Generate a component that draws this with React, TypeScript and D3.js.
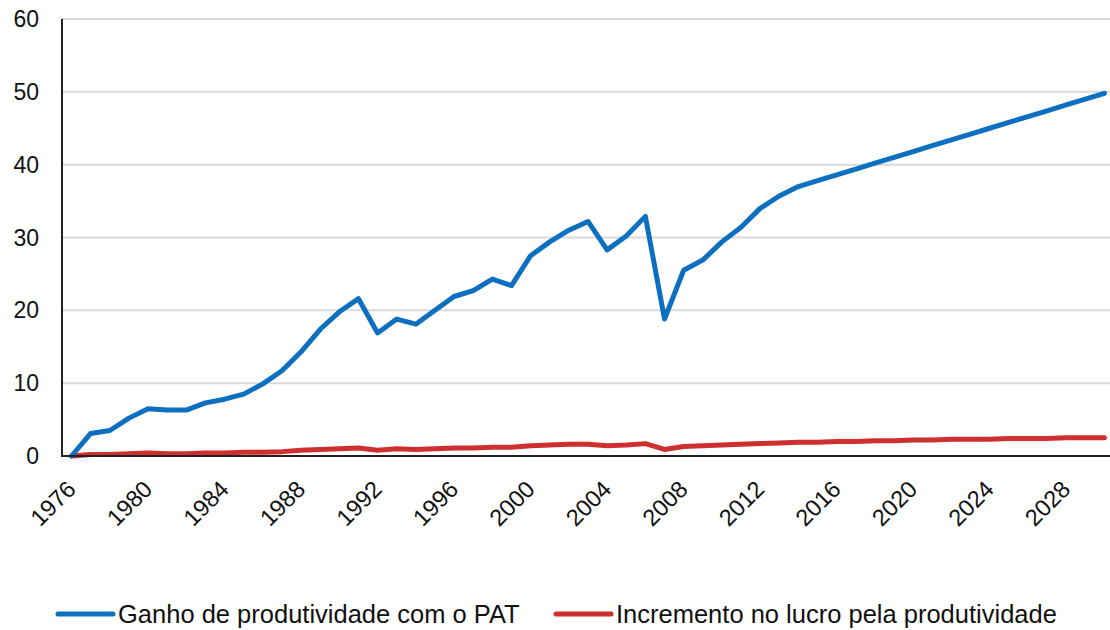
import React, { useRef, useEffect } from 'react';
import * as d3 from 'd3';

const years = d3.range(1976, 2031);

const ganhoPAT = [
  0, 3.1, 3.5, 5.2, 6.5, 6.3, 6.3, 7.3, 7.8, 8.5,
  9.9, 11.7, 14.3, 17.4, 19.8, 21.6, 16.9, 18.8, 18.1, 20.0,
  21.9, 22.7, 24.3, 23.4, 27.5, 29.4, 31.0, 32.2, 28.3, 30.2,
  32.9, 18.8, 25.5, 26.9, 29.4, 31.4, 34.0, 35.7, 37.0, 37.8,
  38.6, 39.4, 40.2, 41.0, 41.8, 42.6, 43.4, 44.2, 45.0, 45.8,
  46.6, 47.4, 48.2, 49.0, 49.8,
];

const incrementoLucro = [
  0, 0.2, 0.2, 0.3, 0.4, 0.3, 0.3, 0.4, 0.4, 0.5,
  0.5, 0.6, 0.8, 0.9, 1.0, 1.1, 0.8, 1.0, 0.9, 1.0,
  1.1, 1.1, 1.2, 1.2, 1.4, 1.5, 1.6, 1.6, 1.4, 1.5,
  1.7, 0.9, 1.3, 1.4, 1.5, 1.6, 1.7, 1.8, 1.9, 1.9,
  2.0, 2.0, 2.1, 2.1, 2.2, 2.2, 2.3, 2.3, 2.3, 2.4,
  2.4, 2.4, 2.5, 2.5, 2.5,
];

const yTicks = [0, 10, 20, 30, 40, 50, 60];
const xTickYears = d3.range(1976, 2030, 4);

const seriesNames = ['Ganho de produtividade com o PAT', 'Incremento no lucro pela produtividade'];
const seriesColors = ['#0d6fbf', '#cf2f2f'];

const PATChart = () => {
  const chartRef = useRef(null);

  useEffect(() => {
    const container = d3.select(chartRef.current);
    container.select('svg').remove();

    const width = 1110;
    const height = 630;
    const left = 62;
    const top = 19;
    const bottom = 456;
    const font = 'Liberation Sans, Arial, sans-serif';

    const svg = container
      .append('svg')
      .attr('width', width)
      .attr('height', height)
      .style('display', 'block');

    const xScale = d3.scalePoint<number>()
      .domain(years)
      .range([left, 1114])
      .padding(0.5);

    const yScale = d3.scaleLinear()
      .domain([0, 60])
      .range([bottom, top]);

    // gridlines
    svg.append('g')
      .selectAll('line')
      .data(yTicks.filter((d) => d > 0))
      .enter()
      .append('line')
      .attr('x1', left)
      .attr('x2', width)
      .attr('y1', (d) => yScale(d))
      .attr('y2', (d) => yScale(d))
      .attr('stroke', '#d9d9dc')
      .attr('stroke-width', 2);

    // y labels
    svg.append('g')
      .selectAll('text')
      .data(yTicks)
      .enter()
      .append('text')
      .attr('x', 39)
      .attr('y', (d) => yScale(d))
      .attr('dy', '0.35em')
      .attr('text-anchor', 'end')
      .style('font-family', font)
      .style('font-size', '23px')
      .attr('fill', '#111')
      .text((d) => d);

    // x labels, rotated
    svg.append('g')
      .selectAll('text')
      .data(xTickYears)
      .enter()
      .append('text')
      .attr('transform', (d) => `translate(${(xScale(d) as number) - 6}, ${bottom + 23}) rotate(-45)`)
      .attr('text-anchor', 'end')
      .attr('dy', '0.7em')
      .style('font-family', font)
      .style('font-size', '23.5px')
      .attr('fill', '#111')
      .text((d) => d);

    // series
    const line = d3.line<number>()
      .x((_, i) => xScale(years[i]) as number)
      .y((d) => yScale(d));

    [incrementoLucro, ganhoPAT].forEach((values, k) => {
      svg.append('path')
        .datum(values)
        .attr('d', line)
        .attr('fill', 'none')
        .attr('stroke', k === 0 ? seriesColors[1] : seriesColors[0])
        .attr('stroke-width', 5)
        .attr('stroke-linejoin', 'round')
        .attr('stroke-linecap', 'round');
    });

    // axes
    svg.append('line')
      .attr('x1', left).attr('x2', left)
      .attr('y1', top).attr('y2', bottom)
      .attr('stroke', '#222').attr('stroke-width', 2);
    svg.append('line')
      .attr('x1', left - 1).attr('x2', width)
      .attr('y1', bottom).attr('y2', bottom)
      .attr('stroke', '#222').attr('stroke-width', 2);

    // legend
    const legendX = [58, 556];
    const legend = svg.append('g');
    seriesNames.forEach((name, i) => {
      legend.append('line')
        .attr('x1', legendX[i]).attr('x2', legendX[i] + 55)
        .attr('y1', 614).attr('y2', 614)
        .attr('stroke', seriesColors[i])
        .attr('stroke-width', 5)
        .attr('stroke-linecap', 'round');
      legend.append('text')
        .attr('x', legendX[i] + 60)
        .attr('y', 614)
        .attr('dy', '0.36em')
        .style('font-family', font)
        .style('font-size', '25.5px')
        .attr('fill', '#111')
        .text(name);
    });
  }, []);

  return (
    <div ref={chartRef} style={{ position: 'absolute', left: 0, top: 0 }}></div>
  );
};

export default function App() {
  return <PATChart />;
}
